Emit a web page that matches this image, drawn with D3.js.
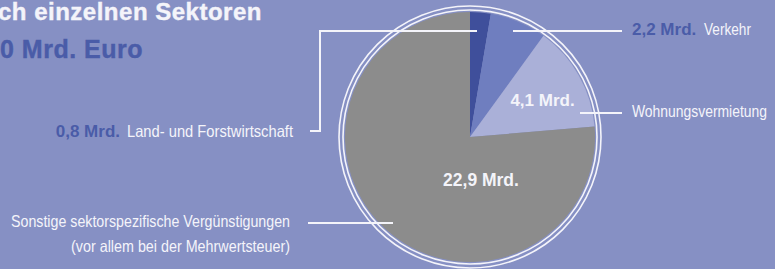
<!DOCTYPE html>
<html><head><meta charset="utf-8">
<script src="https://cdn.jsdelivr.net/npm/d3@7"></script>
<style>
html,body{margin:0;padding:0;background:#8690c4;overflow:hidden;}
svg{display:block;}
</style></head>
<body>
<script>
// ---- data ----
const categories = ["Land- und Forstwirtschaft", "Verkehr", "Wohnungsvermietung", "Sonstige sektorspezifische Vergünstigungen"];
const values = [0.8, 2.2, 4.1, 22.9];
const valueLabels = ["0,8 Mrd.", "2,2 Mrd.", "4,1 Mrd.", "22,9 Mrd."];
const titleLines = ["ch einzelnen Sektoren", "0 Mrd. Euro"];
const subLabel = "(vor allem bei der Mehrwertsteuer)";
const colors = ["#3f4f9b", "#6f7ebf", "#aab0d8", "#8c8c8c"];

const W = 775, H = 269;
const bg = "#8690c4", darkText = "#4a5ca8", white = "#f4f4fa";
const narrow = "'Liberation Sans Narrow', 'Liberation Sans', Arial, sans-serif";
const boldF = "'Liberation Sans', Arial, sans-serif";

const svg = d3.select("body").append("svg").attr("width", W).attr("height", H);
svg.append("rect").attr("width", W).attr("height", H).attr("fill", bg);

// title
svg.append("text").attr("x", -2).attr("y", 20)
  .attr("font-family", boldF).attr("font-weight", "bold").attr("font-size", 24)
  .attr("letter-spacing", 0.5).attr("fill", white).attr("stroke", white).attr("stroke-width", 0.4)
  .text(titleLines[0]);
svg.append("text").attr("x", 0).attr("y", 58)
  .attr("font-family", boldF).attr("font-weight", "bold").attr("font-size", 25)
  .attr("letter-spacing", 0.5).attr("fill", darkText).attr("stroke", darkText).attr("stroke-width", 0.4)
  .text(titleLines[1]);

// pie
const cx = 470, cy = 137, R = 125;
const pie = d3.pie().sort(null).value(d => d)(values);
const arc = d3.arc().innerRadius(0).outerRadius(R);
const g = svg.append("g").attr("transform", `translate(${cx},${cy})`);
g.selectAll("path.slice").data(pie).join("path")
  .attr("class", "slice").attr("d", arc).attr("fill", (d, i) => colors[i]);
g.append("circle").attr("r", R + 2).attr("fill", "none").attr("stroke", white).attr("stroke-width", 1.6);
g.append("circle").attr("r", R + 6).attr("fill", "none").attr("stroke", white).attr("stroke-width", 1.6);

// leader lines
const leaders = [
  [[310,131],[320,131],[320,31],[477,31]],
  [[513,31],[622,31]],
  [[580,113],[622,113]],
  [[308,223],[393,223]]
];
svg.selectAll("path.leader").data(leaders).join("path")
  .attr("class", "leader").attr("d", d => d3.line()(d))
  .attr("fill", "none").attr("stroke", white).attr("stroke-width", 2);

// inside labels
const inLabel = (txt, x, y, fs) => svg.append("text").attr("x", x).attr("y", y)
  .attr("text-anchor", "middle").attr("font-family", boldF).attr("font-weight", "bold")
  .attr("font-size", fs).attr("fill", white).text(txt);
inLabel(valueLabels[2], 542.5, 106, 17);
inLabel(valueLabels[3], 481, 186, 17.5);

// outside labels (condensed look via textLength)
function reg(x, y, anchor, txt, len) {
  return svg.append("text").attr("x", x).attr("y", y).attr("text-anchor", anchor)
    .attr("font-family", narrow).attr("font-size", 16.5).attr("fill", white)
    .attr("textLength", len).attr("lengthAdjust", "spacingAndGlyphs").text(txt);
}
function bold(x, y, anchor, txt) {
  return svg.append("text").attr("x", x).attr("y", y).attr("text-anchor", anchor)
    .attr("font-family", boldF).attr("font-weight", "bold").attr("font-size", 17)
    .attr("fill", darkText).text(txt);
}
// Land- und Forstwirtschaft
reg(293, 137, "end", categories[0], 166);
bold(120, 137, "end", valueLabels[0]);
// Verkehr
bold(632, 35, "start", valueLabels[1]);
reg(704, 35, "start", categories[1], 47);
// Wohnungsvermietung
reg(632, 117, "start", categories[2], 135);
// Sonstige
reg(290, 227, "end", categories[3], 279);
reg(290, 252, "end", subLabel, 219);
</script>
</body></html>
